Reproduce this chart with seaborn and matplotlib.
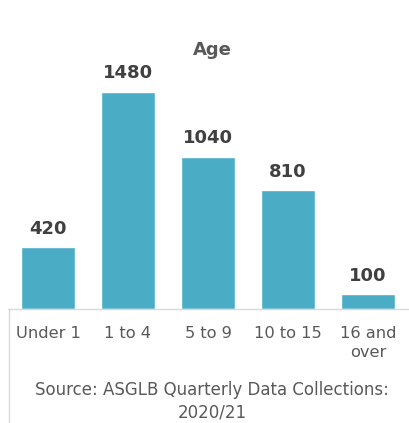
import matplotlib
matplotlib.use("Agg")
import matplotlib.pyplot as plt
from matplotlib.lines import Line2D
import seaborn as sns
import pandas as pd

categories = ["Under 1", "1 to 4", "5 to 9", "10 to 15", "16 and\nover"]
values = [420, 1480, 1040, 810, 100]
title = "Age"
source = "Source: ASGLB Quarterly Data Collections:\n2020/21"

sns.set_theme(style="white")
plt.rcParams['font.family'] = ['DejaVu Sans']

W, H = 409, 423
fig = plt.figure(figsize=(W / 100, H / 100), dpi=100)
ax = fig.add_axes([8 / W, 1 - 309 / H, 400 / W, (309 - 20) / H])

df = pd.DataFrame({"cat": categories, "val": values})
sns.barplot(data=df, x="cat", y="val", color="#4BACC6", saturation=1,
            width=0.67, ax=ax)
ax.set_ylim(0, (309 - 20) / 0.1465)
ax.set_xlim(-0.5, 4.5)

for c in ax.containers:
    ax.bar_label(c, labels=[str(v) for v in values], padding=7,
                 fontsize=13, fontweight="bold", color="#404040")

for s in ["top", "right", "left"]:
    ax.spines[s].set_visible(False)
ax.spines["bottom"].set_color("#d9d9d9")
ax.spines["bottom"].set_linewidth(1)
ax.set_yticks([])
ax.set_xlabel("")
ax.set_ylabel("")
ax.tick_params(axis="x", length=0, pad=12, labelsize=11.7, labelcolor="#595959")
for t in ax.get_xticklabels():
    t.set_linespacing(1.4)

fig.text(212 / W, 1 - 50 / H, title, ha="center", va="center",
         fontsize=13, fontweight="bold", color="#595959")
fig.text(212 / W, 1 - 401 / H, source, ha="center", va="center",
         fontsize=12, color="#595959", linespacing=1.35)
fig.add_artist(Line2D([8.5 / W, 8.5 / W], [0, 1 - 309 / H], color="#d9d9d9", lw=1))

fig.savefig("out.png", dpi=100)
